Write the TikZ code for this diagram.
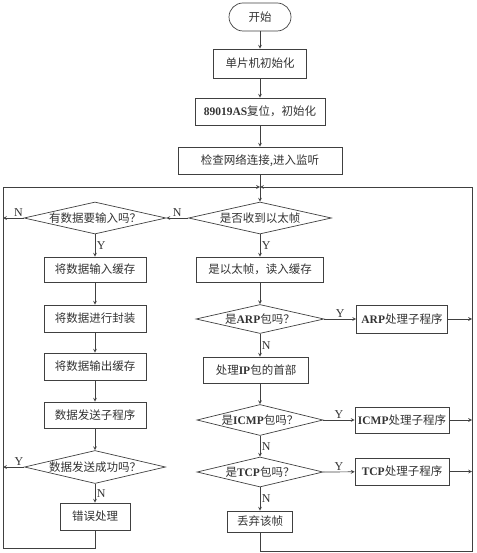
\documentclass[tikz,border=0pt]{standalone}
\usepackage{fontspec}
\setmainfont{Liberation Serif}
\newfontfamily\cjk{Noto Sans CJK SC}
\usepackage{tikz}
\usetikzlibrary{arrows,shapes.geometric}
\newcommand{\en}[1]{{\rmfamily\bfseries #1}}

\begin{document}
\begin{tikzpicture}[x=1pt,y=-1pt,>=stealth,
    line/.style={draw=black!75,line width=0.7pt},
    box/.style={line,rectangle,inner sep=0pt,text=black!80,font=\cjk\fontsize{11.5}{13}\selectfont},
    ask/.style={box,diamond},
    yn/.style={text=black!80,inner sep=1.5pt,font=\fontsize{12}{13}\selectfont}]
  \useasboundingbox (0,0) rectangle (476,553);

  \node[box,rounded corners=14pt,minimum width=62pt,minimum height=28pt] (start) at (260,17) {开始};
  \node[box,minimum width=93pt,minimum height=29pt] (init) at (260,63.5) {单片机初始化};
  \node[box,minimum width=130pt,minimum height=27pt] (reset) at (260,111.5) {\en{89019AS}复位，初始化};
  \node[box,minimum width=164pt,minimum height=27pt] (check) at (260,160.5) {检查网络连接,进入监听};
  \coordinate (join) at (260,187);
  \coordinate (westline) at (3,187);
  \coordinate (eastline) at (472,187);

  \node[ask,aspect=4.5,minimum width=143pt,minimum height=32pt] (recv) at (260,218) {是否收到以太帧};
  \node[ask,aspect=4.4,minimum width=142pt,minimum height=32pt] (input) at (95,218) {有数据要输入吗？};
  \node[box,minimum width=102pt,minimum height=25pt] (inbuf) at (95,269.5) {将数据输入缓存};
  \node[box,minimum width=102pt,minimum height=27pt] (pack) at (95,318.5) {将数据进行封装};
  \node[box,minimum width=102pt,minimum height=27pt] (outbuf) at (95,366.5) {将数据输出缓存};
  \node[box,minimum width=102pt,minimum height=26pt] (send) at (95,415) {数据发送子程序};
  \node[ask,aspect=4.3,minimum width=141pt,minimum height=33pt] (sendok) at (95,467) {数据发送成功吗？};
  \node[box,minimum width=70pt,minimum height=27pt] (err) at (95,516.5) {错误处理};

  \node[box,minimum width=127pt,minimum height=25pt] (read) at (260,269.5) {是以太帧，读入缓存};
  \node[ask,aspect=4.4,minimum width=128pt,minimum height=29pt] (arp) at (260,319) {是\en{ARP}包吗？};
  \node[box,minimum width=91pt,minimum height=28pt] (arpsub) at (402,319) {\en{ARP}处理子程序};
  \node[box,minimum width=105pt,minimum height=26pt] (iphead) at (256,370) {处理\en{IP}包的首部};
  \node[ask,aspect=4.1,minimum width=126pt,minimum height=31pt] (icmp) at (260,420) {是\en{ICMP}包吗？};
  \node[box,minimum width=94pt,minimum height=26pt] (icmpsub) at (402,420) {\en{ICMP}处理子程序};
  \node[ask,aspect=4.2,minimum width=126pt,minimum height=30pt] (tcp) at (260,472) {是\en{TCP}包吗？};
  \node[box,minimum width=94pt,minimum height=27pt] (tcpsub) at (402,471.5) {\en{TCP}处理子程序};
  \node[box,minimum width=65pt,minimum height=21pt] (drop) at (260,521.5) {丢弃该帧};

  \draw[line,->] (start) -- (init);
  \draw[line,->] (init) -- (reset);
  \draw[line,->] (reset) -- (check);
  \draw[line,->] (check) -- (recv);
  \draw[line,->] (err.south) -- ++(0,18) -| (westline) -- (join);
  \draw[line,->] (drop.south) -- ++(0,18.5) -| (eastline) -- (join);

  \draw[line,->] (recv.west) -- node[yn,above]{N} (input.east);
  \draw[line,->] (input.west) -- node[yn,above,pos=0.25]{N} (input.west -| westline);
  \draw[line,->] (input) -- node[yn,right]{Y} (inbuf);
  \draw[line,->] (inbuf) -- (pack);
  \draw[line,->] (pack) -- (outbuf);
  \draw[line,->] (outbuf) -- (send);
  \draw[line,->] (send) -- (sendok);
  \draw[line,->] (sendok.west) -- node[yn,above,pos=0.25]{Y} (sendok.west -| westline);
  \draw[line,->] (sendok) -- node[yn,right]{N} (err);

  \draw[line,->] (recv) -- node[yn,right]{Y} (read);
  \draw[line,->] (read) -- (arp);
  \draw[line,->] (arp.east) -- node[yn,above]{Y} (arpsub);
  \draw[line,->] (arpsub.east) -- (arpsub.east -| eastline);
  \draw[line,->] (arp) -- node[yn,right]{N} (arp |- iphead.north);
  \draw[line,->] (iphead.south -| icmp) -- (icmp);
  \draw[line,->] (icmp.east) -- node[yn,above]{Y} (icmpsub);
  \draw[line,->] (icmpsub.east) -- (icmpsub.east -| eastline);
  \draw[line,->] (icmp) -- node[yn,right]{N} (tcp);
  \draw[line,->] (tcp.east) -- node[yn,above]{Y} (tcpsub);
  \draw[line,->] (tcpsub.east) -- (tcpsub.east -| eastline);
  \draw[line,->] (tcp) -- node[yn,right]{N} (drop);
\end{tikzpicture}
\end{document}
